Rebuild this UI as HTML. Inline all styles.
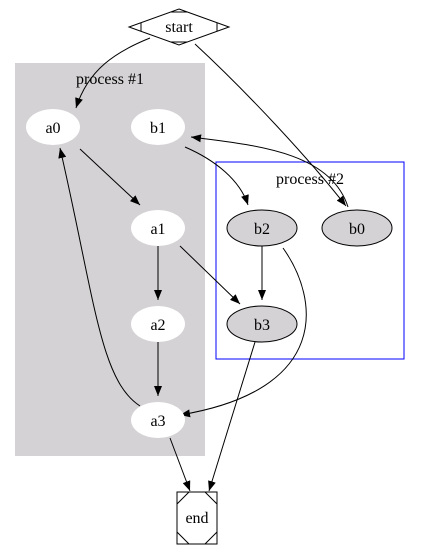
<!DOCTYPE html>
<html><head><style>body{margin:0;background:#fff}svg{display:block}text{font-family:"Liberation Serif",serif;font-size:16px;text-anchor:middle}</style></head><body>
<svg width="421" height="548" viewBox="0 0 421 548" xmlns="http://www.w3.org/2000/svg">
<defs><marker id="ar" markerWidth="10" markerHeight="8" refX="10" refY="4" orient="auto" markerUnits="userSpaceOnUse"><path d="M0,0L10,4L0,8z" fill="#000"/></marker></defs>
<rect x="15" y="63" width="190" height="393" fill="#d4d2d4"/>
<text x="110" y="84">process #1</text>
<rect x="216" y="162" width="188" height="197" fill="none" stroke="#0000ff"/>
<text x="310" y="184">process #2</text>
<polygon points="179,9 229,27 179,45 129,27" fill="#fff" stroke="#000"/>
<path d="M141,23L141,31M217,23L217,31M171,12L187,12M171,42L187,42" stroke="#000"/>
<text x="179" y="32">start</text>
<rect x="177" y="492" width="40" height="52" fill="#fff" stroke="#000"/>
<path d="M177,504L189,492M205,492L217,504M177,532L189,544M205,544L217,532" stroke="#000"/>
<text x="197" y="523">end</text>
<g fill="none" stroke="#000" marker-end="url(#ar)">
<path d="M150,38C115,52 88,70 76,108"/>
<path d="M195,44C250,95 310,160 346,206"/>
<path d="M80,149L140,205"/>
<path d="M158,246L158,300"/>
<path d="M158,342L158,396"/>
<path d="M140,406C100,380 95,300 60,148"/>
<path d="M185,147C215,160 240,180 248,205"/>
<path d="M262,246L262,300"/>
<path d="M255,342L209,491"/>
<path d="M170,438L190,491"/>
<path d="M180,246L240,304"/>
<path d="M283,248C320,300 330,390 180,415"/>
<path d="M348,207C330,150 250,145 191,137"/>
</g>
<g fill="#fff">
<ellipse cx="53" cy="127" rx="27" ry="18"/>
<ellipse cx="158" cy="127" rx="27" ry="18"/>
<ellipse cx="158" cy="228" rx="27" ry="18"/>
<ellipse cx="158" cy="324" rx="27" ry="18"/>
<ellipse cx="158" cy="420" rx="27" ry="18"/>
</g>
<g fill="#d4d2d4" stroke="#000">
<ellipse cx="262" cy="228" rx="35" ry="18"/>
<ellipse cx="357" cy="228" rx="35" ry="18"/>
<ellipse cx="262" cy="324" rx="35" ry="18"/>
</g>
<text x="53" y="133">a0</text><text x="158" y="133">b1</text>
<text x="158" y="234">a1</text><text x="158" y="330">a2</text><text x="158" y="426">a3</text>
<text x="262" y="234">b2</text><text x="357" y="234">b0</text><text x="262" y="330">b3</text>
</svg>
</body></html>
